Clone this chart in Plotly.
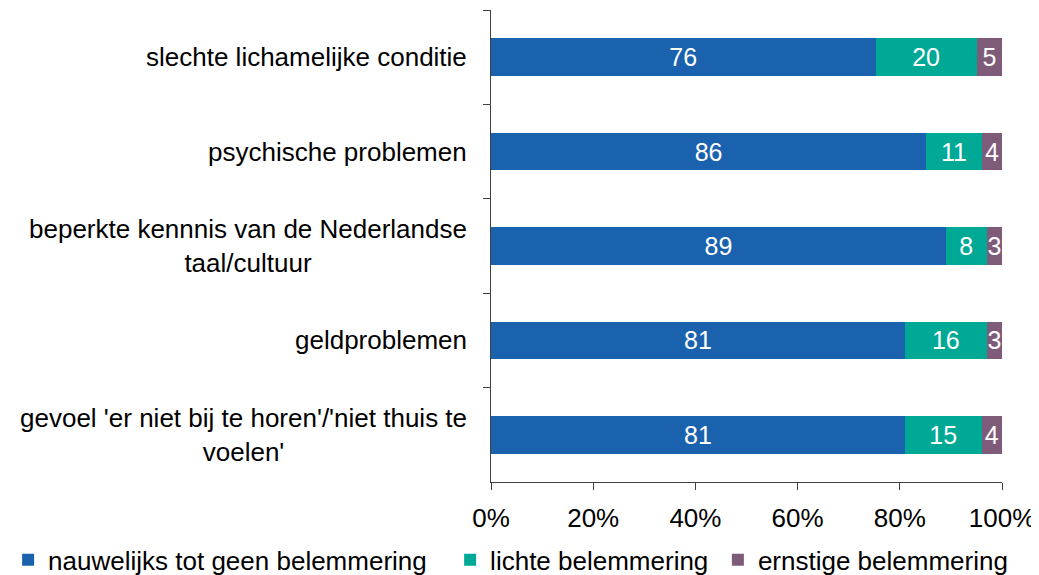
import plotly.graph_objects as go

categories = [
    "slechte lichamelijke conditie",
    "psychische problemen",
    "beperkte kennnis van de Nederlandse<br>taal/cultuur",
    "geldproblemen",
    "gevoel 'er niet bij te horen'/'niet thuis te<br>voelen'",
]
series_names = ["nauwelijks tot geen belemmering", "lichte belemmering", "ernstige belemmering"]
geen = [76, 86, 89, 81, 81]
licht = [20, 11, 8, 16, 15]
ernstig = [5, 4, 3, 3, 4]
x_ticks = [0, 20, 40, 60, 80, 100]
x_tick_labels = ["0%", "20%", "40%", "60%", "80%", "100%"]

colors = ["#1B62AE", "#00A996", "#7F5B7A"]
font = "Liberation Sans, Arial, sans-serif"
legend_ids = ["legend", "legend2", "legend3"]
legend_x = [-0.945, -0.080, 0.444]

fig = go.Figure()
for name, vals, col, lg in zip(series_names, [geen, licht, ernstig], colors, legend_ids):
    fig.add_trace(go.Bar(
        y=categories, x=vals, name=name, orientation="h", legend=lg,
        marker=dict(color=col, line=dict(width=0)),
        text=vals, textposition="inside", insidetextanchor="middle",
        constraintext="none",
        textfont=dict(color="white", size=25, family=font),
        width=0.4,
    ))

# category labels as centred multi-line annotations
for cat in categories:
    fig.add_annotation(
        x=0, xref="paper", y=cat, yref="y", xanchor="right", xshift=-22,
        text=cat, showarrow=False, align="center",
        font=dict(size=26, family=font, color="black"),
    )

legend_style = dict(orientation="h", y=-0.165, xanchor="left", yanchor="middle",
                    font=dict(size=26), itemwidth=30, bgcolor="rgba(0,0,0,0)")

# page adds an 8px body margin, so the figure is sized to fill the window
fig.update_layout(
    barmode="stack", barnorm="percent",
    width=1031, height=567,
    margin=dict(l=483, r=37, t=2, b=93, autoexpand=False),
    plot_bgcolor="white", paper_bgcolor="white",
    font=dict(family=font, size=26, color="black"),
    showlegend=True,
    legend=dict(x=legend_x[0], **legend_style),
    legend2=dict(x=legend_x[1], **legend_style),
    legend3=dict(x=legend_x[2], **legend_style),
)
fig.update_xaxes(
    range=[0, 100], tickvals=x_ticks, ticktext=x_tick_labels, automargin=False,
    showgrid=False, zeroline=False, showline=True, linecolor="#404040", linewidth=1,
    ticks="outside", ticklen=7, tickcolor="#404040", tickfont=dict(size=26),
    ticklabelstandoff=6,
)
fig.update_yaxes(
    autorange="reversed", showgrid=False, showline=True, linecolor="#404040", linewidth=1,
    ticks="outside", ticklen=7, tickcolor="#404040", tickson="boundaries",
    showticklabels=False, automargin=False,
)

fig.write_html("out.html")
